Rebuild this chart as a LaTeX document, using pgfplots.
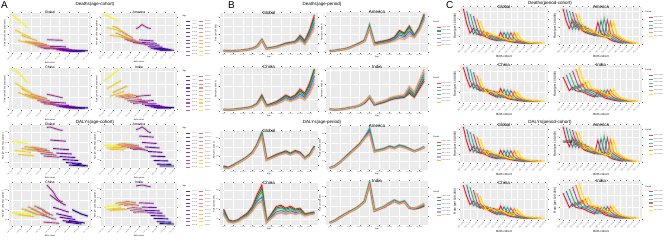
\documentclass[border=0pt]{standalone}
\usepackage{fontspec}
\setmainfont{Liberation Sans}
\usepackage{pgfplots}
\usepackage{pgfplotstable}
\pgfplotsset{compat=1.18}

\definecolor{panelbg}{RGB}{235,235,235}
% plasma (lines, age)
\definecolor{ac0}{RGB}{13,8,135}\definecolor{ac1}{RGB}{41,6,147}\definecolor{ac2}{RGB}{62,4,156}
\definecolor{ac3}{RGB}{81,2,163}\definecolor{ac4}{RGB}{106,0,168}\definecolor{ac5}{RGB}{126,3,168}
\definecolor{ac6}{RGB}{143,13,164}\definecolor{ac7}{RGB}{159,26,157}\definecolor{ac8}{RGB}{176,42,144}
\definecolor{ac9}{RGB}{189,55,134}\definecolor{ac10}{RGB}{204,71,120}\definecolor{ac11}{RGB}{215,86,108}
\definecolor{ac12}{RGB}{225,100,98}\definecolor{ac13}{RGB}{234,116,86}\definecolor{ac14}{RGB}{242,132,75}
\definecolor{ac15}{RGB}{248,149,64}\definecolor{ac16}{RGB}{252,166,54}\definecolor{ac17}{RGB}{253,186,45}
\definecolor{ac18}{RGB}{252,206,37}\definecolor{ac19}{RGB}{240,249,33}
% viridis (bands, age)
\definecolor{vc0}{RGB}{68,1,84}\definecolor{vc1}{RGB}{71,19,101}\definecolor{vc2}{RGB}{72,36,117}
\definecolor{vc3}{RGB}{70,52,128}\definecolor{vc4}{RGB}{65,68,135}\definecolor{vc5}{RGB}{59,82,139}
\definecolor{vc6}{RGB}{53,95,141}\definecolor{vc7}{RGB}{47,108,142}\definecolor{vc8}{RGB}{42,120,142}
\definecolor{vc9}{RGB}{37,132,142}\definecolor{vc10}{RGB}{33,145,140}\definecolor{vc11}{RGB}{30,157,137}
\definecolor{vc12}{RGB}{34,168,132}\definecolor{vc13}{RGB}{47,180,124}\definecolor{vc14}{RGB}{68,191,112}
\definecolor{vc15}{RGB}{94,201,98}\definecolor{vc16}{RGB}{122,209,81}\definecolor{vc17}{RGB}{155,217,60}
\definecolor{vc18}{RGB}{189,223,38}\definecolor{vc19}{RGB}{253,231,37}
% periods (age-period)
\definecolor{bp0}{RGB}{228,26,28}\definecolor{bp1}{RGB}{27,122,62}\definecolor{bp2}{RGB}{77,175,74}
\definecolor{bp3}{RGB}{63,111,216}\definecolor{bp4}{RGB}{176,140,216}\definecolor{bp5}{RGB}{242,160,61}
% periods (period-cohort)
\definecolor{cp0}{RGB}{228,26,28}\definecolor{cp1}{RGB}{55,126,184}\definecolor{cp2}{RGB}{77,175,74}
\definecolor{cp3}{RGB}{152,78,163}\definecolor{cp4}{RGB}{255,127,0}\definecolor{cp5}{RGB}{255,221,0}

% ---------------- data: rate by age group (rows) and period (columns)
\pgfplotstableread{
a p0 p1 p2 p3 p4 p5
A0 0.30 0.29 0.29 0.28 0.28 0.27
A1 0.20 0.20 0.19 0.19 0.18 0.18
A2 0.22 0.22 0.21 0.21 0.20 0.20
A3 0.30 0.29 0.29 0.28 0.28 0.27
A4 0.40 0.39 0.38 0.38 0.37 0.36
A5 0.55 0.54 0.53 0.52 0.51 0.50
A6 0.80 0.78 0.77 0.75 0.74 0.72
A7 1.30 1.27 1.24 1.22 1.19 1.16
A8 2.80 2.78 2.75 2.72 2.70 2.66
A9 0.80 0.78 0.75 0.73 0.70 0.68
A10 1.00 0.97 0.94 0.91 0.88 0.85
A11 1.20 1.16 1.13 1.09 1.06 1.02
A12 1.60 1.55 1.50 1.46 1.41 1.36
A13 2.00 1.94 1.88 1.82 1.76 1.70
A14 2.20 2.13 2.07 2.00 1.94 1.87
A15 2.40 2.33 2.26 2.18 2.11 2.04
A16 3.80 3.55 3.30 3.05 2.80 2.60
A17 2.60 2.42 2.24 2.06 1.88 1.70
A18 5.00 4.65 4.30 3.95 3.60 3.30
A19 8.50 7.90 7.30 6.70 6.10 5.50
}\DG
\pgfplotstableread{
a p0 p1 p2 p3 p4 p5
A0 0.20 0.20 0.19 0.19 0.18 0.18
A1 0.30 0.29 0.29 0.28 0.28 0.27
A2 0.50 0.49 0.48 0.47 0.46 0.45
A3 0.65 0.64 0.62 0.61 0.60 0.59
A4 1.00 0.98 0.96 0.94 0.92 0.90
A5 1.50 1.47 1.44 1.41 1.38 1.35
A6 2.00 1.96 1.92 1.88 1.84 1.80
A7 2.60 2.55 2.50 2.45 2.40 2.35
A8 5.20 5.60 6.20 5.80 5.40 5.30
A9 2.00 1.90 1.80 1.70 1.60 1.50
A10 2.30 2.19 2.07 1.96 1.84 1.73
A11 2.50 2.38 2.25 2.13 2.00 1.88
A12 2.80 2.66 2.52 2.38 2.24 2.10
A13 3.30 3.14 2.97 2.81 2.64 2.48
A14 4.80 4.60 4.20 3.80 3.40 3.00
A15 4.20 4.00 3.70 3.40 3.10 2.80
A16 5.80 5.60 5.20 4.60 4.10 3.60
A17 3.70 3.60 3.50 3.40 3.30 3.20
A18 5.50 5.35 5.20 5.00 4.85 4.70
A19 8.50 8.30 8.00 7.70 7.40 7.10
}\DA
\pgfplotstableread{
a p0 p1 p2 p3 p4 p5
A0 0.20 0.19 0.19 0.18 0.18 0.17
A1 0.15 0.15 0.14 0.14 0.13 0.13
A2 0.20 0.19 0.19 0.18 0.18 0.17
A3 0.30 0.29 0.28 0.27 0.26 0.26
A4 0.40 0.39 0.38 0.36 0.35 0.34
A5 0.50 0.49 0.47 0.46 0.44 0.43
A6 0.70 0.68 0.66 0.64 0.62 0.60
A7 1.20 1.16 1.13 1.09 1.06 1.02
A8 2.60 2.47 2.34 2.21 2.08 1.95
A9 0.90 0.86 0.81 0.77 0.72 0.68
A10 1.20 1.13 1.06 0.98 0.91 0.84
A11 1.50 1.41 1.32 1.23 1.14 1.05
A12 2.00 1.88 1.76 1.64 1.52 1.40
A13 2.60 2.44 2.29 2.13 1.98 1.82
A14 2.20 2.06 1.93 1.80 1.67 1.54
A15 2.60 2.44 2.29 2.13 1.98 1.82
A16 3.60 3.31 3.02 2.74 2.45 2.16
A17 2.90 2.67 2.44 2.20 1.97 1.74
A18 4.60 4.23 3.86 3.50 3.13 2.76
A19 6.80 6.90 6.40 5.80 5.20 4.60
}\DC
\pgfplotstableread{
a p0 p1 p2 p3 p4 p5
A0 0.30 0.29 0.28 0.27 0.26 0.25
A1 0.20 0.19 0.19 0.18 0.18 0.17
A2 0.25 0.25 0.24 0.24 0.23 0.23
A3 0.35 0.35 0.34 0.34 0.33 0.33
A4 0.50 0.50 0.49 0.49 0.48 0.48
A5 0.60 0.60 0.60 0.60 0.60 0.60
A6 0.80 0.81 0.82 0.83 0.84 0.85
A7 1.20 1.23 1.26 1.29 1.32 1.35
A8 2.00 2.04 2.08 2.12 2.16 2.20
A9 0.90 0.94 0.97 1.01 1.04 1.08
A10 1.10 1.14 1.19 1.23 1.28 1.32
A11 1.30 1.35 1.40 1.46 1.51 1.56
A12 1.60 1.66 1.73 1.79 1.86 1.92
A13 1.80 1.87 1.94 2.02 2.09 2.16
A14 1.90 1.98 2.05 2.13 2.20 2.28
A15 2.00 2.08 2.16 2.24 2.32 2.40
A16 2.60 2.81 3.02 3.22 3.43 3.64
A17 2.00 2.16 2.32 2.48 2.64 2.80
A18 3.20 3.46 3.71 3.97 4.22 4.48
A19 4.40 4.75 5.10 5.46 5.81 6.16
}\DI
\pgfplotstableread{
a p0 p1 p2 p3 p4 p5
A0 180 170 160 150 140 130
A1 150 146 142 138 134 130
A2 200 196 192 188 184 180
A3 260 256 252 248 244 240
A4 320 316 312 308 304 300
A5 390 386 382 378 374 370
A6 480 475 470 465 460 455
A7 650 645 640 635 630 625
A8 900 910 890 870 850 840
A9 330 325 320 315 310 305
A10 380 373 367 360 354 347
A11 430 422 414 406 398 390
A12 470 462 454 446 438 430
A13 510 500 490 480 470 460
A14 460 452 444 436 428 420
A15 520 510 500 490 480 470
A16 480 472 464 456 448 440
A17 360 355 350 345 340 335
A18 440 432 424 416 408 400
A19 620 612 604 596 588 580
}\LG
\pgfplotstableread{
a p0 p1 p2 p3 p4 p5
A0 60 60 59 59 58 58
A1 100 99 98 97 96 95
A2 180 178 176 174 172 170
A3 280 277 274 271 268 265
A4 380 376 372 368 364 360
A5 480 475 470 465 460 455
A6 580 575 570 565 560 555
A7 720 715 710 705 700 695
A8 860 880 920 880 820 790
A9 420 425 430 420 410 400
A10 445 450 455 445 435 425
A11 470 475 480 470 460 450
A12 520 525 530 520 510 500
A13 490 495 500 490 480 470
A14 540 545 550 540 530 520
A15 520 520 520 510 500 490
A16 470 470 470 465 460 455
A17 420 420 420 418 416 414
A18 460 460 460 458 456 454
A19 510 510 510 508 506 504
}\LA
\pgfplotstableread{
a p0 p1 p2 p3 p4 p5
A0 400 370 340 310 290 270
A1 180 170 160 150 140 130
A2 150 142 134 126 118 110
A3 180 172 164 156 148 140
A4 250 240 230 220 210 200
A5 320 306 292 278 264 250
A6 450 430 410 390 370 350
A7 700 650 600 560 520 490
A8 900 830 760 650 580 560
A9 150 145 140 135 130 125
A10 300 282 265 238 215 207
A11 450 420 390 340 300 290
A12 480 450 420 370 330 320
A13 420 395 370 335 300 290
A14 460 432 404 366 330 318
A15 400 378 356 326 300 290
A16 420 398 376 346 320 310
A17 300 292 284 276 268 260
A18 320 312 304 296 288 280
A19 340 332 324 316 308 300
}\LC
\pgfplotstableread{
a p0 p1 p2 p3 p4 p5
A0 60 58 56 54 52 50
A1 100 98 96 94 92 90
A2 170 168 166 164 162 160
A3 230 228 226 224 222 220
A4 290 288 286 284 282 280
A5 340 338 336 334 332 330
A6 410 408 406 404 402 400
A7 500 498 496 494 492 490
A8 860 870 880 870 850 840
A9 300 305 310 308 306 304
A10 340 348 355 352 348 345
A11 380 390 400 395 390 385
A12 440 455 470 462 454 446
A13 500 515 530 520 510 500
A14 450 465 480 470 460 450
A15 490 500 510 500 490 480
A16 360 365 370 368 366 364
A17 340 345 350 352 354 356
A18 360 368 376 384 392 400
A19 400 412 424 436 448 460
}\LI
\pgfplotstabletranspose[colnames from=a]{\DGt}{\DG}
\pgfplotstabletranspose[colnames from=a]{\DAt}{\DA}
\pgfplotstabletranspose[colnames from=a]{\DCt}{\DC}
\pgfplotstabletranspose[colnames from=a]{\DIt}{\DI}
\pgfplotstabletranspose[colnames from=a]{\LGt}{\LG}
\pgfplotstabletranspose[colnames from=a]{\LAt}{\LA}
\pgfplotstabletranspose[colnames from=a]{\LCt}{\LC}
\pgfplotstabletranspose[colnames from=a]{\LIt}{\LI}

\pgfplotsset{
 panel/.style={
  scale only axis, anchor=north west,
  axis background/.style={fill=panelbg},
  axis line style={draw=none},
  grid=major, major grid style={white, line width=0.3bp},
  tick align=outside, major tick length=0.8bp,
  tick style={black!55, line width=0.2bp},
  ticklabel style={font=\fontsize{1.5}{1.7}\selectfont, text=black!65, inner sep=0.4bp},
  label style={font=\fontsize{2}{2.4}\selectfont, inner sep=0.5bp},
  title style={at={(0.5,1)}, anchor=north, yshift=-0.6bp, font=\fontsize{3.5}{4}\selectfont},
  max space between ticks=12, try min ticks=4,
  enlarge x limits=0.04, enlarge y limits=0.05,
  /pgf/number format/assume math mode=true,
  scaled y ticks=false,
  yticklabel style={/pgf/number format/fixed},
  legend style={draw=none, fill=none, font=\fontsize{1.5}{1.7}\selectfont, text=black!70, nodes={inner sep=0.3bp}, row sep=0.6bp},
  legend image code/.code={\draw[##1, line width=1.1bp, opacity=0.8] (0bp,0bp) -- (4bp,0bp);},
 },
 apanel/.style={xlabel={Birth cohort}, ylabel={Rate (per 100,000 population)},
  xmin=0, xmax=24, xtick={0,3,...,24},
  xticklabels={1897-1901,1912-1916,1927-1931,1942-1946,1957-1961,1972-1976,1987-1991,2002-2006,2017-2021},
  xticklabel style={rotate=45, anchor=north east}},
 bpanel/.style={xlabel={Age}, ylabel={Rate (per 100,000)},
  xmin=0, xmax=19, xtick={0,2,...,18},
  xticklabels={1 to 4,10 to 14,20 to 24,30 to 34,40 to 44,50 to 54,60 to 64,70 to 74,80 to 84,90 to 94},
  title style={font=\fontsize{4.5}{5}\selectfont}},
 cpanel/.style={xlabel={Birth cohort}, ylabel={Rate (per 100,000)},
  xmin=0, xmax=24, xtick={0,2,...,24},
  xticklabels={1897-1901,1907-1911,1917-1921,1927-1931,1937-1941,1947-1951,1957-1961,1967-1971,1977-1981,1987-1991,1997-2001,2007-2011,2017-2021},
  xticklabel style={rotate=45, anchor=north east},
  label style={font=\fontsize{3}{3.5}\selectfont},
  ticklabel style={font=\fontsize{1.8}{2}\selectfont},
  title style={font=\fontsize{4.5}{5}\selectfont}},
 alegend/.style={legend columns=2,
  legend entries={1 to 4,50 to 54,5 to 9,55 to 59,10 to 14,60 to 64,15 to 19,65 to 69,20 to 24,70 to 74,25 to 29,75 to 79,30 to 34,80 to 84,35 to 39,85 to 89,40 to 44,90 to 94,45 to 49,95 plus},
  legend style={at={(1.07,0.88)}, anchor=north west, /tikz/column sep=1bp},
  extra description/.code={\node[anchor=south west, font=\fontsize{2}{2.4}\selectfont, inner sep=0pt] at (1.07,0.9) {Age};}},
 blegend/.style={legend entries={1992 to 1996,1997 to 2001,2002 to 2006,2007 to 2011,2012 to 2016,2017 to 2021},
  legend style={at={(1.05,0.72)}, anchor=north west},
  extra description/.code={\node[anchor=south west, font=\fontsize{2}{2.4}\selectfont, inner sep=0pt] at (1.05,0.74) {Period};}},
 clegend/.style={legend entries={1992 to 1996,1997 to 2001,2002 to 2006,2007 to 2011,2012 to 2016,2017 to 2021},
  legend style={at={(1.04,0.82)}, anchor=north west},
  extra description/.code={\node[anchor=south west, font=\fontsize{2}{2.4}\selectfont, inner sep=0pt] at (1.04,0.84) {Period};}},
}

% #1 x, #2 y, #3 w, #4 h, #5 table, #6 title, #7 extra options
\newcommand{\APanel}[7]{%
\begin{axis}[panel, apanel, at={(#1bp,-#2bp)}, width=#3bp, height=#4bp, title={#6}, #7]
\pgfplotsinvokeforeach{0,...,19}{%
\addplot[forget plot, vc##1, line width=3bp, opacity=0.16] table[x expr={19-##1+\coordindex}, y=A##1]{#5};
}
\pgfplotsinvokeforeach{0,10,1,11,2,12,3,13,4,14,5,15,6,16,7,17,8,18,9,19}{%
\addplot[ac##1, line width=0.9bp] table[x expr={19-##1+\coordindex}, y=A##1]{#5};
}
\end{axis}}
\newcommand{\BPanel}[7]{%
\begin{axis}[panel, bpanel, at={(#1bp,-#2bp)}, width=#3bp, height=#4bp, title={#6}, #7]
\pgfplotsinvokeforeach{0,...,5}{%
\addplot[forget plot, bp##1, line width=2.5bp, opacity=0.18] table[x expr=\coordindex, y=p##1]{#5};
}
\pgfplotsinvokeforeach{0,...,5}{%
\addplot[bp##1, line width=0.8bp] table[x expr=\coordindex, y=p##1]{#5};
}
\end{axis}}
\newcommand{\CPanel}[7]{%
\begin{axis}[panel, cpanel, at={(#1bp,-#2bp)}, width=#3bp, height=#4bp, title={#6}, #7]
\pgfplotsinvokeforeach{0,...,5}{%
\addplot[forget plot, cp##1, line width=2.5bp, opacity=0.14] table[x expr={19-\coordindex+##1}, y=p##1]{#5};
}
\pgfplotsinvokeforeach{0,...,5}{%
\addplot[cp##1, line width=0.8bp] table[x expr={19-\coordindex+##1}, y=p##1]{#5};
}
\end{axis}}

\begin{document}
\begin{tikzpicture}
\useasboundingbox (0,0) rectangle (669bp,-243bp);
% headings
\node[anchor=north west, inner sep=0pt, font=\fontsize{10}{11}\selectfont] at (1bp,-1bp) {A};
\node[anchor=north west, inner sep=0pt, font=\fontsize{10}{11}\selectfont] at (228bp,-1bp) {B};
\node[anchor=north west, inner sep=0pt, font=\fontsize{10}{11}\selectfont] at (446bp,-1bp) {C};
\node[font=\fontsize{4.5}{5}\selectfont] at (95bp,-4.5bp) {Deaths(age-cohort)};
\node[font=\fontsize{4.5}{5}\selectfont] at (95bp,-122.5bp) {DALYs(age-cohort)};
\node[font=\fontsize{4.5}{5}\selectfont] at (322bp,-4.5bp) {Deaths(age-period)};
\node[font=\fontsize{4.5}{5}\selectfont] at (322bp,-122.5bp) {DALYs(age-period)};
\node[font=\fontsize{4.5}{5}\selectfont] at (550bp,-3bp) {Deaths(period-cohort)};
\node[font=\fontsize{4.5}{5}\selectfont] at (550bp,-122bp) {DALYs(period-cohort)};

% A: age-cohort
\APanel{9}{13}{82}{40}{\DGt}{Global}{}
\APanel{101}{13}{76}{39}{\DAt}{America}{alegend}
\APanel{9}{68}{82}{42}{\DCt}{China}{}
\APanel{101}{68}{76}{42}{\DIt}{India}{alegend}
\APanel{9}{125}{82}{43}{\LGt}{Global}{}
\APanel{101}{125}{76}{43}{\LAt}{America}{alegend}
\APanel{9}{183}{82}{43}{\LCt}{China}{}
\APanel{101}{183}{76}{43}{\LIt}{India}{alegend}

% B: age-period
\BPanel{220}{13}{98}{40}{\DG}{Global}{}
\BPanel{326}{12}{102}{41}{\DA}{America}{blegend}
\BPanel{220}{67}{98}{45}{\DC}{China}{}
\BPanel{326}{67}{102}{45}{\DI}{India}{blegend}
\BPanel{220}{131}{98}{39}{\LG}{Global}{}
\BPanel{326}{126}{102}{44}{\LA}{America}{blegend}
\BPanel{220}{183}{98}{42}{\LC}{China}{}
\BPanel{326}{181}{102}{44}{\LI}{India}{blegend}

% C: period-cohort
\CPanel{460}{7}{88}{38}{\DG}{Global}{}
\CPanel{560}{7}{82}{38}{\DA}{America}{clegend}
\CPanel{460}{65}{88}{38}{\DC}{China}{}
\CPanel{560}{65}{82}{38}{\DI}{India}{clegend}
\CPanel{460}{125}{88}{38}{\DG}{Global}{}
\CPanel{560}{125}{82}{38}{\DA}{America}{clegend}
\CPanel{460}{183}{88}{37}{\DC}{China}{}
\CPanel{560}{181}{82}{39}{\DI}{India}{clegend}
\node[anchor=west, font=\fontsize{4.5}{5}\selectfont] at (559bp,-142bp) {India};
\end{tikzpicture}
\end{document}
